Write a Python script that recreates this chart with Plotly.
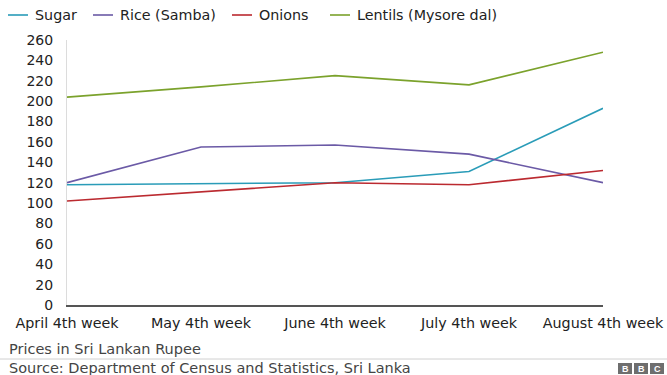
import plotly.graph_objects as go

weeks = ["April 4th week", "May 4th week", "June 4th week", "July 4th week", "August 4th week"]
sugar = [118, 119, 120, 131, 193]
rice = [120, 155, 157, 148, 120]
onions = [102, 111, 120, 118, 132]
lentils = [204, 214, 225, 216, 248]

series = [
    ("Sugar", sugar, "#2a9cb8"),
    ("Rice (Samba)", rice, "#6b5aa6"),
    ("Onions", onions, "#bb2a30"),
    ("Lentils (Mysore dal)", lentils, "#7ba22c"),
]

FONT = "DejaVu Sans, Arial, sans-serif"
W, H = 667, 375
ML, MR, MT, MB = 67, 64, 40, 70
PW = W - ML - MR
PH = H - MT - MB

fig = go.Figure()
for name, vals, col in series:
    fig.add_trace(go.Scatter(x=weeks, y=vals, mode="lines", name=name,
                             line=dict(color=col, width=1.6), showlegend=False))

def px_x(p):
    return (p - ML) / PW

def px_y(p):
    return (H - MB - p) / PH

shapes = []
annotations = []
# manual legend
legend_x = [8, 93, 232, 330]
for (name, vals, col), lx in zip(series, legend_x):
    shapes.append(dict(type="line", xref="paper", yref="paper",
                       x0=px_x(lx), x1=px_x(lx + 20), y0=px_y(15), y1=px_y(15),
                       line=dict(color=col, width=1.6)))
    annotations.append(dict(text=name, xref="paper", yref="paper",
                            x=px_x(lx + 25), y=px_y(15), xanchor="left", yanchor="middle",
                            showarrow=False, font=dict(family=FONT, size=14.3, color="#222")))

# footer
annotations.append(dict(text="Prices in Sri Lankan Rupee", xref="paper", yref="paper",
                        x=px_x(7), y=px_y(349), xanchor="left", yanchor="middle",
                        showarrow=False, font=dict(family=FONT, size=14.5, color="#444")))
annotations.append(dict(text="Source: Department of Census and Statistics, Sri Lanka", xref="paper", yref="paper",
                        x=px_x(7), y=px_y(368), xanchor="left", yanchor="middle",
                        showarrow=False, font=dict(family=FONT, size=14.5, color="#444")))
shapes.append(dict(type="line", xref="paper", yref="paper",
                   x0=px_x(0), x1=px_x(W), y0=px_y(359), y1=px_y(359),
                   line=dict(color="#d0d0d0", width=1)))
for i, ch in enumerate("BBC"):
    x0 = 618 + i * 16
    shapes.append(dict(type="rect", xref="paper", yref="paper",
                       x0=px_x(x0), x1=px_x(x0 + 14), y0=px_y(363), y1=px_y(374),
                       fillcolor="#6e6e6e", line=dict(width=0)))
    annotations.append(dict(text="<b>%s</b>" % ch, xref="paper", yref="paper",
                            x=px_x(x0 + 7), y=px_y(368.5), xanchor="center", yanchor="middle",
                            showarrow=False, font=dict(family="Liberation Sans, Arial", size=9, color="white")))

fig.update_layout(
    width=W, height=H,
    margin=dict(l=ML, r=MR, t=MT, b=MB, autoexpand=False),
    paper_bgcolor="white", plot_bgcolor="white",
    shapes=shapes, annotations=annotations,
    xaxis=dict(type="category", range=[0, 4], showgrid=False, zeroline=False,
               showline=True, linecolor="#555", linewidth=2, ticks="",
               automargin=False,
               tickfont=dict(family=FONT, size=14.3, color="#222"),
               ticklabelstandoff=4),
    yaxis=dict(range=[0, 260], dtick=20, showgrid=False, zeroline=False,
               showline=True, linecolor="#dcdcdc", linewidth=1, ticks="",
               automargin=False,
               tickfont=dict(family=FONT, size=14, color="#222"),
               ticklabelstandoff=10),
)

fig.write_html("out.html")
